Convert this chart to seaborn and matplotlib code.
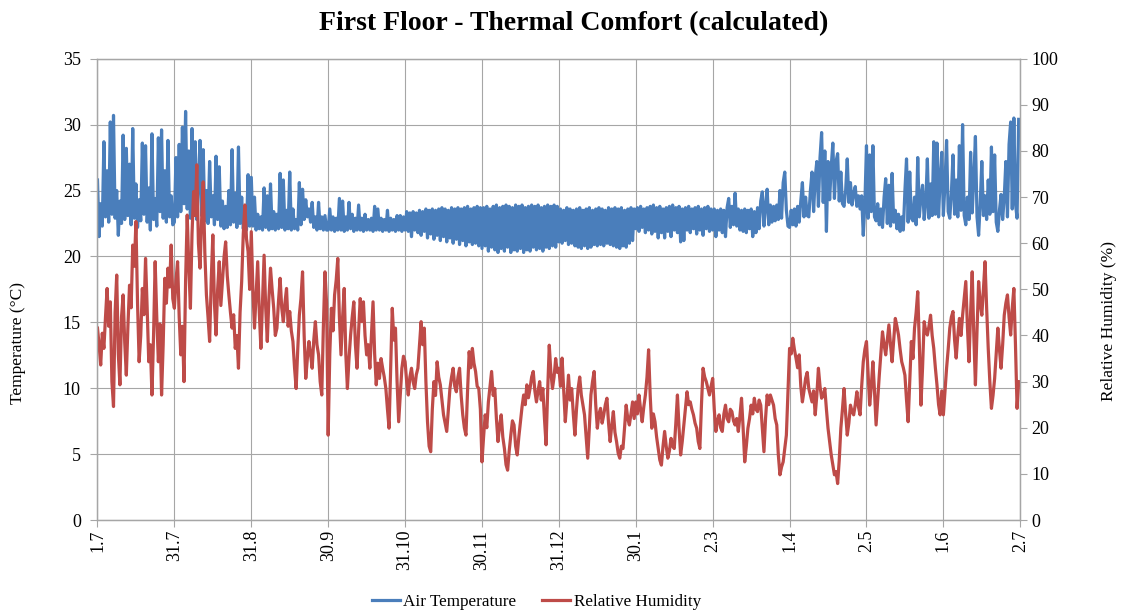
import numpy as np
import pandas as pd
import matplotlib
matplotlib.use("Agg")
import matplotlib.pyplot as plt
import seaborn as sns

# category labels on the x axis (dates, day.month)
date_labels = ["1.7", "31.7", "31.8", "30.9", "31.10", "30.11", "31.12",
               "30.1", "2.3", "1.4", "2.5", "1.6", "2.7"]

# air temperature (deg C), 48 readings per tick interval
air_temp = [
    25.8, 21.5, 24.0, 22.3, 28.7, 23.0, 26.5, 22.6, 30.2, 23.2, 30.7, 22.9, 25.0, 21.6, 24.2, 22.5, 29.2, 22.8, 28.2, 23.1, 27.0, 22.4, 29.7, 22.9,
    25.5, 22.2, 24.3, 22.7, 28.6, 23.2, 28.4, 22.6, 25.2, 22.0, 29.3, 22.8, 24.4, 22.3, 29.0, 23.4, 29.6, 22.9, 26.5, 22.6, 28.8, 23.0, 24.6, 22.4,

    22.6, 27.5, 23.0, 28.5, 23.4, 29.8, 24.0, 31.0, 23.6, 28.0, 22.9, 29.7, 23.3, 28.7, 22.8, 25.5, 28.8, 23.1, 28.1, 22.7, 25.0, 22.5, 27.2, 23.0,
    24.6, 22.4, 27.6, 22.8, 26.8, 22.3, 24.2, 22.1, 23.8, 22.2, 25.0, 22.4, 28.1, 22.6, 24.8, 22.2, 28.3, 22.5, 24.5, 22.1, 23.2, 22.0, 26.2, 22.3,

    26.0, 22.3, 24.5, 22.0, 23.2, 22.1, 23.0, 22.0, 25.2, 22.2, 24.6, 22.0, 25.5, 22.1, 23.4, 22.0, 23.2, 22.1, 26.3, 22.2, 25.8, 22.0, 23.5, 22.1,
    26.4, 22.0, 23.6, 22.1, 22.8, 22.0, 25.6, 22.4, 25.1, 22.8, 24.3, 23.0, 23.6, 22.6, 24.1, 22.2, 23.0, 22.0, 24.1, 22.1, 23.0, 22.0, 23.1, 22.0,

    22.0, 23.6, 22.0, 23.0, 21.9, 22.9, 22.0, 24.4, 22.0, 24.2, 21.9, 23.0, 22.0, 24.1, 22.1, 23.2, 21.9, 22.9, 22.0, 23.9, 22.0, 22.9, 21.9, 23.2,
    22.0, 22.8, 22.0, 22.9, 21.9, 23.8, 22.0, 23.6, 22.0, 22.9, 21.9, 22.8, 22.0, 23.5, 21.9, 22.9, 22.0, 22.8, 21.9, 23.1, 22.0, 23.1, 21.9, 23.0,

    22.0, 23.4, 21.9, 23.3, 21.5, 23.4, 22.0, 23.3, 21.8, 23.5, 21.6, 23.4, 21.9, 23.6, 21.4, 23.5, 21.7, 23.6, 21.3, 23.5, 21.6, 23.6, 21.2, 23.7,
    21.5, 23.6, 21.1, 23.5, 21.4, 23.7, 21.0, 23.6, 21.3, 23.7, 20.9, 23.6, 21.2, 23.7, 20.8, 23.8, 21.1, 23.6, 20.9, 23.7, 21.0, 23.8, 20.8, 23.7,

    20.6, 23.7, 20.8, 23.8, 20.4, 23.6, 20.7, 23.8, 20.5, 23.9, 20.3, 23.7, 20.6, 23.8, 20.4, 23.9, 20.7, 23.8, 20.3, 23.7, 20.5, 23.9, 20.4, 23.8,
    20.6, 23.9, 20.3, 23.7, 20.5, 23.8, 20.4, 23.9, 20.7, 23.8, 20.5, 23.9, 20.6, 23.7, 20.4, 23.8, 20.7, 23.9, 20.6, 23.8, 20.8, 23.9, 20.7, 23.8,

    21.1, 23.6, 21.0, 23.5, 21.2, 23.7, 20.9, 23.6, 21.0, 23.5, 20.8, 23.6, 20.7, 23.7, 20.6, 23.5, 20.8, 23.6, 20.6, 23.7, 20.7, 23.5, 20.9, 23.6,
    20.8, 23.7, 20.9, 23.6, 20.8, 23.5, 21.0, 23.7, 20.9, 23.6, 20.8, 23.7, 20.7, 23.6, 20.6, 23.7, 20.8, 23.5, 20.7, 23.6, 21.0, 23.7, 21.2, 23.6,

    22.1, 23.7, 21.9, 23.8, 22.2, 23.6, 21.8, 23.7, 22.0, 23.8, 21.7, 23.9, 21.9, 23.7, 21.4, 23.8, 21.8, 23.6, 21.4, 23.7, 21.9, 23.8, 21.5, 23.9,
    22.0, 23.7, 21.8, 23.8, 21.1, 23.6, 21.2, 23.7, 22.0, 23.8, 21.8, 23.6, 22.1, 23.7, 21.7, 23.8, 22.0, 23.6, 21.6, 23.7, 22.1, 23.8, 21.9, 23.6,

    22.0, 23.6, 21.5, 23.5, 22.0, 23.6, 21.8, 23.5, 21.5, 23.7, 24.4, 22.2, 23.8, 22.4, 24.8, 22.3, 23.6, 22.0, 23.5, 21.9, 23.6, 21.8, 23.5, 22.1,
    23.6, 21.5, 23.4, 21.8, 23.7, 22.1, 24.2, 24.9, 22.3, 23.8, 25.1, 22.4, 23.9, 22.6, 23.8, 22.7, 23.9, 22.8, 25.0, 22.9, 25.6, 26.4, 23.5, 22.3,

    22.2, 23.5, 22.4, 23.6, 22.3, 23.8, 22.6, 24.2, 25.6, 23.0, 24.5, 23.1, 23.0, 25.0, 26.4, 23.4, 26.0, 27.2, 23.8, 27.5, 29.4, 24.1, 28.0, 21.9,
    27.2, 24.3, 26.8, 28.6, 24.4, 27.2, 27.8, 24.2, 26.4, 24.0, 23.8, 25.0, 27.4, 24.1, 25.6, 23.9, 24.8, 25.3, 23.8, 24.6, 23.6, 24.6, 21.6, 24.0,

    28.4, 22.9, 27.7, 23.4, 28.4, 23.0, 22.7, 24.0, 22.4, 23.6, 22.2, 24.5, 25.9, 22.5, 25.4, 22.3, 26.3, 22.6, 23.5, 22.1, 23.2, 21.9, 23.0, 22.0,
    25.0, 27.4, 22.6, 26.4, 22.9, 22.7, 24.5, 22.4, 27.5, 23.0, 24.6, 25.4, 22.8, 24.0, 27.4, 22.9, 25.5, 23.1, 28.7, 23.2, 28.6, 23.0, 26.0, 27.9,

    23.1, 25.5, 28.8, 23.4, 22.9, 24.8, 27.7, 23.2, 25.8, 23.0, 28.4, 23.5, 30.0, 23.1, 22.4, 24.5, 22.8, 27.9, 23.3, 26.0, 29.1, 23.0, 21.6, 24.0,
    27.2, 23.1, 24.6, 22.8, 25.8, 23.2, 28.3, 23.4, 27.7, 22.6, 21.9, 23.5, 24.7, 22.8, 24.5, 27.2, 23.0, 28.5, 30.2, 23.6, 30.5, 24.0, 22.9, 30.4,
]

# relative humidity (%), 48 readings per tick interval
rel_hum = [
    41.6, 38.0, 33.6, 40.5, 37.2, 44.0, 50.2, 42.0, 47.3, 30.0, 24.6, 45.0, 53.1, 36.0, 29.3, 44.0, 48.8, 38.5, 31.4, 42.0, 50.9, 46.0, 59.6, 55.0,
    64.7, 47.0, 34.3, 40.0, 50.2, 44.5, 56.7, 46.0, 34.3, 38.0, 27.1, 40.0, 56.0, 44.0, 34.3, 42.5, 27.1, 38.0, 52.4, 47.0, 54.6, 50.5, 59.6, 48.0,

    45.9, 52.0, 56.0, 44.0, 35.8, 42.0, 30.0, 52.0, 66.1, 55.0, 45.9, 62.0, 71.2, 66.0, 77.0, 60.0, 54.6, 65.0, 73.3, 58.0, 48.8, 44.0, 38.7, 52.0,
    61.8, 47.0, 40.1, 50.0, 56.0, 46.5, 51.7, 57.0, 60.3, 53.0, 48.8, 45.0, 41.6, 44.5, 37.2, 40.0, 32.9, 45.0, 51.7, 62.0, 68.3, 61.0, 58.2, 50.0,

    62.5, 50.0, 41.6, 49.0, 56.0, 45.0, 37.2, 47.0, 57.4, 46.0, 38.7, 48.0, 54.6, 50.0, 45.9, 40.0, 41.6, 47.5, 52.4, 46.0, 43.0, 47.0, 50.2, 42.0,
    45.2, 41.0, 38.7, 33.0, 28.5, 37.0, 44.4, 48.0, 53.8, 40.0, 30.7, 35.0, 38.7, 36.0, 32.9, 39.0, 43.0, 38.0, 35.8, 30.0, 27.1, 42.0, 53.8, 47.0,

    18.4, 36.0, 45.9, 41.0, 48.8, 52.0, 56.7, 44.0, 35.8, 44.0, 50.2, 36.0, 28.5, 35.0, 40.1, 44.0, 47.3, 38.0, 32.9, 41.0, 48.0, 43.0, 47.3, 40.0,
    35.8, 38.0, 32.9, 40.0, 47.3, 36.0, 29.3, 34.0, 30.7, 35.0, 32.9, 31.0, 28.5, 24.0, 19.9, 33.0, 45.9, 39.0, 41.6, 30.0, 21.3, 27.0, 32.9, 35.5,

    34.3, 30.0, 27.1, 31.0, 32.9, 30.0, 28.5, 31.5, 32.9, 38.0, 43.0, 38.0, 41.6, 30.0, 21.3, 16.0, 14.8, 24.0, 30.0, 27.0, 34.3, 31.0, 29.3, 26.0,
    22.8, 21.0, 19.2, 24.0, 28.5, 31.0, 32.9, 29.0, 27.8, 31.0, 32.9, 27.0, 22.8, 20.0, 18.4, 28.0, 36.5, 33.0, 37.2, 34.0, 32.2, 29.0, 28.5, 24.0,

    12.6, 18.0, 22.8, 20.0, 25.6, 29.0, 32.2, 27.0, 28.5, 22.0, 17.0, 20.5, 22.8, 18.0, 15.5, 12.0, 10.8, 15.0, 18.4, 21.5, 20.6, 16.0, 14.1, 18.0,
    21.3, 24.5, 27.1, 25.0, 29.3, 26.5, 28.5, 31.0, 32.2, 28.0, 25.6, 28.0, 30.0, 26.0, 28.5, 22.0, 16.3, 28.0, 37.9, 32.0, 28.5, 31.0, 35.0, 32.0,

    32.9, 29.0, 35.1, 28.0, 21.3, 26.0, 31.4, 26.0, 28.5, 23.0, 18.4, 24.0, 28.5, 31.0, 27.1, 25.0, 22.8, 18.0, 13.4, 20.0, 27.1, 30.0, 32.2, 25.0,
    19.9, 23.0, 24.2, 21.0, 22.8, 25.0, 26.4, 21.0, 17.0, 20.5, 23.5, 19.0, 17.0, 14.5, 13.4, 16.0, 15.5, 20.0, 24.9, 22.0, 20.6, 23.0, 25.6, 22.0,

    25.6, 23.0, 27.1, 24.0, 21.3, 24.5, 27.1, 31.0, 36.9, 27.0, 19.9, 23.0, 21.3, 18.0, 15.5, 13.0, 11.9, 16.0, 19.2, 16.0, 13.4, 15.0, 17.7, 16.0,
    15.5, 21.0, 27.1, 20.0, 14.1, 17.0, 20.6, 24.0, 27.8, 25.0, 25.6, 24.0, 22.8, 21.0, 19.9, 17.0, 15.5, 25.0, 32.9, 31.0, 30.0, 28.5, 27.1, 29.0,

    30.7, 24.0, 19.2, 21.5, 22.8, 20.0, 19.2, 23.0, 24.9, 22.0, 21.3, 24.0, 23.5, 21.5, 20.6, 22.0, 19.2, 22.5, 26.4, 20.0, 12.6, 16.0, 19.9, 22.0,
    24.9, 23.0, 26.4, 24.0, 23.5, 26.0, 24.9, 20.0, 14.8, 22.0, 27.1, 25.0, 27.1, 26.0, 24.9, 22.0, 20.6, 14.0, 9.8, 11.5, 12.6, 15.5, 18.4, 28.0,

    37.2, 36.0, 39.4, 37.0, 35.1, 33.0, 35.8, 29.0, 25.6, 28.0, 30.7, 32.0, 28.5, 27.0, 25.6, 28.0, 22.8, 27.0, 32.9, 29.0, 26.4, 27.0, 28.5, 24.0,
    19.9, 17.0, 14.1, 12.0, 9.8, 10.5, 7.9, 13.0, 19.9, 24.0, 28.5, 23.0, 18.4, 21.0, 24.9, 23.5, 22.8, 25.0, 27.8, 24.5, 22.8, 29.0, 34.3, 37.0,

    38.7, 32.0, 24.9, 29.0, 34.3, 28.0, 20.6, 26.0, 31.4, 36.0, 40.8, 38.0, 35.8, 39.0, 42.3, 38.0, 34.3, 39.0, 43.7, 42.0, 40.1, 37.0, 34.3, 33.0,
    31.4, 26.0, 21.3, 30.0, 38.7, 35.0, 41.6, 45.0, 49.5, 38.0, 24.9, 33.0, 43.0, 41.0, 40.1, 42.0, 44.4, 40.0, 37.2, 33.0, 29.3, 25.0, 22.8, 28.0,

    22.8, 28.0, 32.9, 37.0, 41.6, 44.0, 45.2, 39.0, 35.1, 40.0, 43.7, 40.0, 44.4, 48.0, 51.7, 42.0, 34.3, 45.0, 53.8, 40.0, 29.3, 41.0, 51.7, 47.0,
    44.4, 50.0, 56.0, 46.0, 37.2, 30.0, 24.2, 27.0, 30.7, 36.0, 41.6, 37.0, 32.9, 38.0, 44.4, 47.0, 48.8, 44.0, 40.1, 46.0, 50.2, 38.0, 24.2, 30.0,
]

temp_df = pd.DataFrame({"pos": np.arange(len(air_temp)) / 48, "temp": air_temp})
rh_df = pd.DataFrame({"pos": np.arange(len(rel_hum)) / 48, "rh": rel_hum})

plt.rcParams['font.family'] = ['Liberation Serif', 'DejaVu Serif']
grey = "#a6a6a6"

fig = plt.figure(figsize=(11.27, 6.13), dpi=100)
ax = fig.add_axes([0.0865, 0.1517, 0.8188, 0.7525])
ax2 = ax.twinx()

sns.lineplot(data=temp_df, x="pos", y="temp", ax=ax, color="#4a7ebb", lw=2.3, legend=False)
sns.lineplot(data=rh_df, x="pos", y="rh", ax=ax2, color="#be4b48", lw=2.3, legend=False)

ax.set_xlim(0, len(date_labels) - 1)
ax.set_ylim(0, 35)
ax.set_yticks(range(0, 36, 5))
ax2.set_ylim(0, 100)
ax2.set_yticks(range(0, 101, 10))
ax.set_xticks(range(len(date_labels)))
ax.set_xticklabels(date_labels, rotation=90)

ax.grid(True, color=grey, lw=0.8)
ax.set_axisbelow(True)
for a in (ax, ax2):
    a.set_xlabel("")
    a.set_ylabel("")
    for sp in a.spines.values():
        sp.set_color(grey)
        sp.set_linewidth(0.9)
    a.tick_params(direction="out", length=5, width=0.8, color=grey, labelsize=13)
ax.tick_params(axis="y", pad=7)
ax.tick_params(axis="x", pad=2)
ax2.tick_params(axis="y", pad=3)

fig.text(0.509, 0.962, "First Floor - Thermal Comfort (calculated)",
         ha="center", va="center", fontsize=20, fontweight="bold")
fig.text(0.016, 0.44, "Temperature (°C)", rotation=90, ha="center", va="center", fontsize=12.5)
fig.text(0.984, 0.476, "Relative Humidity (%)", rotation=90, ha="center", va="center", fontsize=12.5)

fig.legend(handles=[ax.lines[0], ax2.lines[0]], labels=["Air Temperature", "Relative Humidity"],
           loc="center", bbox_to_anchor=(0.476, 0.018), ncol=2, frameon=False,
           fontsize=12.3, handlelength=1.65, handletextpad=0.2, columnspacing=1.5)

fig.savefig("out.png", dpi=100)
